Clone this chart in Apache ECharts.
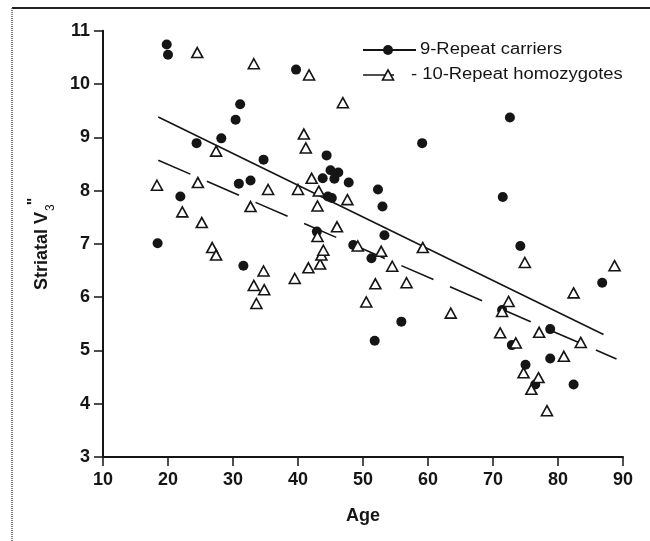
<!DOCTYPE html>
<html>
<head>
<meta charset="utf-8">
<script src="https://cdn.jsdelivr.net/npm/echarts@6/dist/echarts.min.js"></script>
<style>
html,body{margin:0;padding:0;background:#fff;}
#chart{width:650px;height:541px;}
</style>
</head>
<body>
<div id="chart"></div>
<script>
// 9-Repeat carriers [age, striatal V3'']
var carriers9 = [
  [19.8,10.74],[20.0,10.55],[24.4,8.89],[21.9,7.89],[18.4,7.01],[28.2,8.98],
  [30.4,9.33],[31.1,9.62],[30.9,8.13],[32.7,8.19],[34.7,8.58],[31.6,6.59],
  [39.7,10.27],[44.4,8.66],[43.8,8.23],[45.0,8.38],[46.2,8.34],[45.6,8.22],
  [47.8,8.15],[44.6,7.89],[45.2,7.86],[42.9,7.23],[48.5,6.98],[51.3,6.73],
  [52.3,8.02],[53.0,7.70],[53.3,7.16],[51.8,5.18],[55.9,5.54],[59.1,8.89],
  [72.6,9.37],[71.5,7.88],[74.2,6.96],[71.4,5.76],[72.9,5.10],[75.0,4.73],
  [76.5,4.36],[78.8,5.40],[78.8,4.85],[82.4,4.36],[86.8,6.27]
];
// 10-Repeat homozygotes
var homozygotes10 = [
  [18.3,8.10],[22.2,7.60],[24.5,10.59],[24.6,8.15],[25.2,7.40],[27.4,8.74],
  [26.8,6.93],[27.4,6.79],[33.2,10.38],[32.7,7.70],[33.2,6.22],[33.6,5.88],
  [34.7,6.49],[34.8,6.14],[35.4,8.02],[39.5,6.35],[40.0,8.02],[40.9,9.06],
  [41.2,8.80],[41.7,10.17],[41.6,6.55],[42.1,8.23],[43.0,7.14],[43.0,7.71],
  [43.2,7.99],[43.4,6.62],[43.6,6.79],[43.9,6.88],[46.0,7.32],[46.9,9.65],
  [47.6,7.83],[49.2,6.96],[50.5,5.91],[51.9,6.25],[52.8,6.86],[54.5,6.58],
  [56.7,6.27],[59.2,6.93],[63.5,5.70],[71.1,5.33],[71.4,5.73],[72.4,5.92],
  [73.5,5.14],[74.9,6.65],[74.7,4.58],[75.9,4.27],[77.0,4.49],[77.1,5.34],
  [78.3,3.87],[80.9,4.89],[82.4,6.08],[83.5,5.15],[88.7,6.59]
];
// Regression lines (end points)
var fit9 = [[18.5,9.38],[87.0,5.30]];
var fit10 = [[18.5,8.57],[89.0,4.84]];

var legendLabels = ['9-Repeat carriers', '- 10-Repeat homozygotes'];
var xTicks = {min:10, max:90, interval:10};
var yTicks = {min:3, max:11, interval:1};

var FONT = '"Liberation Sans", Arial, Helvetica, sans-serif';
var INK = '#151515';

var chart = echarts.init(document.getElementById('chart'), null, {renderer:'canvas'});
chart.setOption({
  animation: false,
  backgroundColor: '#fff',
  grid: {left:103, right:27, top:30.7, bottom:84, containLabel:false},
  xAxis: {
    type:'value', min:xTicks.min, max:xTicks.max, interval:xTicks.interval,
    name:'Age', nameLocation:'middle', nameGap:50,
    nameTextStyle:{fontFamily:FONT, fontWeight:'bold', fontSize:18, color:INK},
    axisLine:{show:true, onZero:false, lineStyle:{color:INK, width:2}},
    axisTick:{show:true, inside:false, length:9, lineStyle:{color:INK, width:1.5}},
    axisLabel:{margin:14, fontFamily:FONT, fontWeight:'bold', fontSize:18, color:INK},
    splitLine:{show:false}
  },
  yAxis: {
    type:'value', min:yTicks.min, max:yTicks.max, interval:yTicks.interval,
    name:'{a|Striatal V}{b|3}{c|"}', nameLocation:'middle', nameGap:48,
    nameTextStyle:{
      fontFamily:FONT, fontWeight:'bold', fontSize:18, color:INK,
      rich:{
        a:{fontFamily:FONT, fontWeight:'bold', fontSize:18, color:INK, lineHeight:26, verticalAlign:'middle'},
        b:{fontFamily:FONT, fontWeight:'normal', fontSize:12, color:INK, lineHeight:26, verticalAlign:'bottom', padding:[0,0,-2,1]},
        c:{fontFamily:FONT, fontWeight:'bold', fontSize:16, color:INK, lineHeight:26, verticalAlign:'top', padding:[-2,0,0,-1]}
      }
    },
    axisLine:{show:true, onZero:false, lineStyle:{color:INK, width:2}},
    axisTick:{show:true, inside:false, length:9, lineStyle:{color:INK, width:1.5}},
    axisLabel:{margin:13, fontFamily:FONT, fontWeight:'bold', fontSize:18, color:INK},
    splitLine:{show:false}
  },
  series: [
    {type:'line', data:fit9, showSymbol:false, symbol:'none', silent:true, z:1,
     lineStyle:{color:INK, width:1.6, type:'solid'}},
    {type:'line', data:fit10, showSymbol:false, symbol:'none', silent:true, z:1,
     lineStyle:{color:INK, width:1.6, type:[35,18]}},
    {type:'scatter', name:legendLabels[0], data:carriers9, symbol:'circle', symbolSize:10, z:2,
     itemStyle:{color:INK, opacity:1}},
    {type:'scatter', name:legendLabels[1], data:homozygotes10, symbol:'triangle', symbolSize:[11,10], z:3,
     itemStyle:{color:'#fff', borderColor:INK, borderWidth:1.6, opacity:1}}
  ],
  graphic: [
    // frame
    {type:'line', shape:{x1:12, y1:8, x2:650, y2:8}, style:{stroke:'#222', lineWidth:2}, silent:true},
    {type:'line', shape:{x1:12, y1:8, x2:12, y2:541}, style:{stroke:'#555', lineWidth:1.5, lineDash:[1,1]}, silent:true},
    // legend row 1
    {type:'line', shape:{x1:363, y1:50, x2:416, y2:50}, style:{stroke:INK, lineWidth:1.8}, silent:true},
    {type:'circle', shape:{cx:388, cy:50, r:5}, style:{fill:INK}, silent:true},
    {type:'text', x:420, y:50, scaleX:1.15, style:{text:legendLabels[0], fontFamily:FONT, fontSize:16, fill:INK, verticalAlign:'middle', align:'left'}, silent:true},
    // legend row 2
    {type:'line', shape:{x1:363, y1:75, x2:394, y2:75}, style:{stroke:INK, lineWidth:1.5}, silent:true},
    {type:'polygon', shape:{points:[[388,70],[393.5,80],[382.5,80]]}, style:{fill:'#fff', stroke:INK, lineWidth:1.6}, silent:true},
    {type:'text', x:411, y:75, scaleX:1.15, style:{text:legendLabels[1], fontFamily:FONT, fontSize:16, fill:INK, verticalAlign:'middle', align:'left'}, silent:true}
  ]
});
</script>
</body>
</html>
